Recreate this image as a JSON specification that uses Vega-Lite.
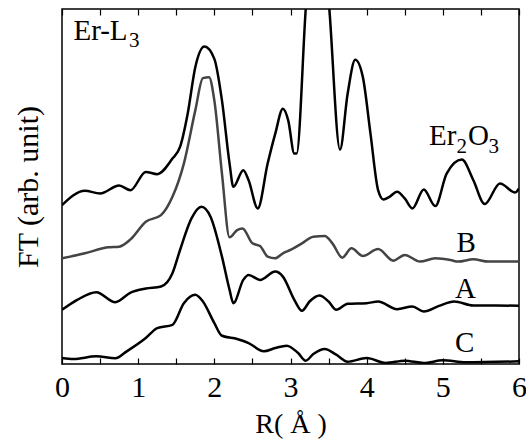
{
  "$schema": "https://vega.github.io/schema/vega-lite/v6.json",
  "width": 457,
  "height": 355,
  "autosize": {"type": "none"},
  "padding": {"left": 62, "top": 9, "right": 7, "bottom": 79},
  "background": "white",
  "config": {
    "view": {"stroke": "black", "strokeWidth": 1.5},
    "font": "Liberation Serif",
    "axis": {"labelFont": "Liberation Serif", "titleFont": "Liberation Serif", "labelColor": "black", "titleColor": "black", "titleFontWeight": "normal", "grid": false}
  },
  "datasets": {
    "curves": [
      {"s":"E","r":0,"v":478},{"s":"E","r":0.3,"v":521},{"s":"E","r":0.5,"v":513},{"s":"E","r":0.75,"v":537},{"s":"E","r":0.9,"v":523},{"s":"E","r":1.1,"v":578},{"s":"E","r":1.25,"v":571},{"s":"E","r":1.45,"v":618},{"s":"E","r":1.55,"v":653},{"s":"E","r":1.65,"v":753},{"s":"E","r":1.75,"v":893},{"s":"E","r":1.87,"v":955},{"s":"E","r":2.0,"v":918},{"s":"E","r":2.1,"v":793},{"s":"E","r":2.2,"v":603},{"s":"E","r":2.25,"v":533},{"s":"E","r":2.38,"v":583},{"s":"E","r":2.45,"v":553},{"s":"E","r":2.57,"v":468},{"s":"E","r":2.7,"v":603},{"s":"E","r":2.8,"v":693},{"s":"E","r":2.9,"v":768},{"s":"E","r":2.97,"v":733},{"s":"E","r":3.05,"v":633},{"s":"E","r":3.08,"v":633},{"s":"E","r":3.2,"v":1068},{"s":"E","r":3.35,"v":1500},{"s":"E","r":3.51,"v":1068},{"s":"E","r":3.65,"v":645},{"s":"E","r":3.75,"v":813},{"s":"E","r":3.85,"v":915},{"s":"E","r":3.95,"v":863},{"s":"E","r":4.05,"v":693},{"s":"E","r":4.15,"v":523},{"s":"E","r":4.22,"v":495},{"s":"E","r":4.3,"v":503},{"s":"E","r":4.4,"v":518},{"s":"E","r":4.5,"v":498},{"s":"E","r":4.6,"v":468},{"s":"E","r":4.75,"v":525},{"s":"E","r":4.9,"v":475},{"s":"E","r":5.05,"v":573},{"s":"E","r":5.25,"v":615},{"s":"E","r":5.4,"v":553},{"s":"E","r":5.55,"v":481},{"s":"E","r":5.75,"v":543},{"s":"E","r":5.95,"v":516},{"s":"E","r":6.0,"v":528},
      {"s":"B","r":0,"v":318},{"s":"B","r":0.3,"v":333},{"s":"B","r":0.6,"v":351},{"s":"B","r":0.75,"v":353},{"s":"B","r":0.9,"v":375},{"s":"B","r":1.1,"v":428},{"s":"B","r":1.3,"v":448},{"s":"B","r":1.45,"v":503},{"s":"B","r":1.6,"v":603},{"s":"B","r":1.75,"v":763},{"s":"B","r":1.85,"v":860},{"s":"B","r":1.93,"v":863},{"s":"B","r":2.0,"v":793},{"s":"B","r":2.1,"v":573},{"s":"B","r":2.2,"v":381},{"s":"B","r":2.3,"v":403},{"s":"B","r":2.37,"v":408},{"s":"B","r":2.5,"v":363},{"s":"B","r":2.6,"v":355},{"s":"B","r":2.7,"v":323},{"s":"B","r":2.8,"v":318},{"s":"B","r":2.9,"v":333},{"s":"B","r":3.0,"v":343},{"s":"B","r":3.15,"v":363},{"s":"B","r":3.3,"v":383},{"s":"B","r":3.45,"v":385},{"s":"B","r":3.55,"v":363},{"s":"B","r":3.68,"v":320},{"s":"B","r":3.8,"v":348},{"s":"B","r":3.95,"v":325},{"s":"B","r":4.15,"v":346},{"s":"B","r":4.35,"v":311},{"s":"B","r":4.5,"v":328},{"s":"B","r":4.7,"v":308},{"s":"B","r":4.9,"v":318},{"s":"B","r":5.1,"v":313},{"s":"B","r":5.2,"v":308},{"s":"B","r":5.4,"v":315},{"s":"B","r":5.6,"v":308},{"s":"B","r":6,"v":308},
      {"s":"A","r":0,"v":163},{"s":"A","r":0.2,"v":193},{"s":"A","r":0.45,"v":216},{"s":"A","r":0.7,"v":186},{"s":"A","r":0.9,"v":215},{"s":"A","r":1.1,"v":227},{"s":"A","r":1.3,"v":233},{"s":"A","r":1.45,"v":273},{"s":"A","r":1.55,"v":343},{"s":"A","r":1.7,"v":438},{"s":"A","r":1.83,"v":473},{"s":"A","r":1.95,"v":443},{"s":"A","r":2.1,"v":323},{"s":"A","r":2.2,"v":223},{"s":"A","r":2.25,"v":183},{"s":"A","r":2.38,"v":253},{"s":"A","r":2.45,"v":268},{"s":"A","r":2.6,"v":253},{"s":"A","r":2.8,"v":278},{"s":"A","r":2.9,"v":263},{"s":"A","r":3.05,"v":193},{"s":"A","r":3.15,"v":160},{"s":"A","r":3.25,"v":188},{"s":"A","r":3.38,"v":206},{"s":"A","r":3.5,"v":188},{"s":"A","r":3.6,"v":163},{"s":"A","r":3.75,"v":181},{"s":"A","r":4.0,"v":183},{"s":"A","r":4.15,"v":188},{"s":"A","r":4.4,"v":165},{"s":"A","r":4.6,"v":173},{"s":"A","r":4.75,"v":158},{"s":"A","r":4.95,"v":175},{"s":"A","r":5.15,"v":188},{"s":"A","r":5.4,"v":176},{"s":"A","r":5.7,"v":176},{"s":"A","r":6,"v":175},
      {"s":"C","r":0,"v":18},{"s":"C","r":0.15,"v":15},{"s":"C","r":0.45,"v":23},{"s":"C","r":0.7,"v":17},{"s":"C","r":0.85,"v":38},{"s":"C","r":1.1,"v":78},{"s":"C","r":1.25,"v":108},{"s":"C","r":1.45,"v":118},{"s":"C","r":1.6,"v":183},{"s":"C","r":1.75,"v":208},{"s":"C","r":1.85,"v":188},{"s":"C","r":2.0,"v":123},{"s":"C","r":2.1,"v":85},{"s":"C","r":2.3,"v":75},{"s":"C","r":2.45,"v":63},{"s":"C","r":2.65,"v":38},{"s":"C","r":2.8,"v":48},{"s":"C","r":2.95,"v":55},{"s":"C","r":3.1,"v":33},{"s":"C","r":3.2,"v":10},{"s":"C","r":3.3,"v":30},{"s":"C","r":3.45,"v":45},{"s":"C","r":3.6,"v":28},{"s":"C","r":3.75,"v":7},{"s":"C","r":4.0,"v":18},{"s":"C","r":4.25,"v":3},{"s":"C","r":4.5,"v":10},{"s":"C","r":4.75,"v":3},{"s":"C","r":5.0,"v":11},{"s":"C","r":5.3,"v":5},{"s":"C","r":6,"v":8}
    ],
    "labels": [
      {"t":"Er-L","r":0.15,"v":975},
      {"t":"Er","r":4.82,"v":659},
      {"t":"O","r":5.33,"v":659},
      {"t":"B","r":5.18,"v":337},
      {"t":"A","r":5.16,"v":198},
      {"t":"C","r":5.16,"v":35}
    ],
    "subs": [
      {"t":"3","r":0.88,"v":953},
      {"t":"2","r":5.18,"v":635},
      {"t":"3","r":5.6,"v":635}
    ]
  },
  "resolve": {"axis": {"x": "independent"}},
  "layer": [
    {
      "data": {"name": "curves"},
      "mark": {"type": "line", "clip": true, "strokeWidth": 2.5, "interpolate": "monotone"},
      "encoding": {
        "x": {"field": "r", "type": "quantitative", "scale": {"domain": [0, 6], "nice": false},
          "axis": {"orient": "bottom", "title": "R( Å )", "titleFontSize": 28, "titlePadding": 8, "labelFontSize": 30, "labelPadding": 14, "values": [0,0.5,1,1.5,2,2.5,3,3.5,4,4.5,5,5.5,6], "labelExpr": "datum.value % 1 === 0 ? format(datum.value, 'd') : ''", "tickSize": -6, "tickColor": "black", "tickWidth": 1.2, "domain": false, "labelFlush": false, "labelOverlap": false}},
        "y": {"field": "v", "type": "quantitative", "scale": {"domain": [0, 1068], "nice": false, "zero": false},
          "axis": {"title": "FT (arb. unit)", "titleFontSize": 30, "labels": false, "ticks": false, "domain": false, "titlePadding": 19}},
        "color": {"field": "s", "type": "nominal", "scale": {"domain": ["E","B","A","C"], "range": ["black", "#444444", "black", "black"]}, "legend": null},
        "detail": {"field": "s"}
      }
    },
    {
      "data": {"name": "labels"},
      "mark": {"type": "text", "align": "left", "baseline": "alphabetic", "fontSize": 29, "font": "Liberation Serif", "color": "black"},
      "encoding": {
        "x": {"field": "r", "type": "quantitative",
          "axis": {"orient": "top", "title": null, "labels": false, "values": [0,0.5,1,1.5,2,2.5,3,3.5,4,4.5,5,5.5,6], "tickSize": -6, "tickColor": "black", "tickWidth": 1.2, "domain": false}},
        "y": {"field": "v", "type": "quantitative"},
        "text": {"field": "t"}
      }
    },
    {
      "data": {"name": "subs"},
      "mark": {"type": "text", "align": "left", "baseline": "alphabetic", "fontSize": 21, "font": "Liberation Serif", "color": "black"},
      "encoding": {
        "x": {"field": "r", "type": "quantitative", "axis": null},
        "y": {"field": "v", "type": "quantitative"},
        "text": {"field": "t"}
      }
    }
  ]
}
